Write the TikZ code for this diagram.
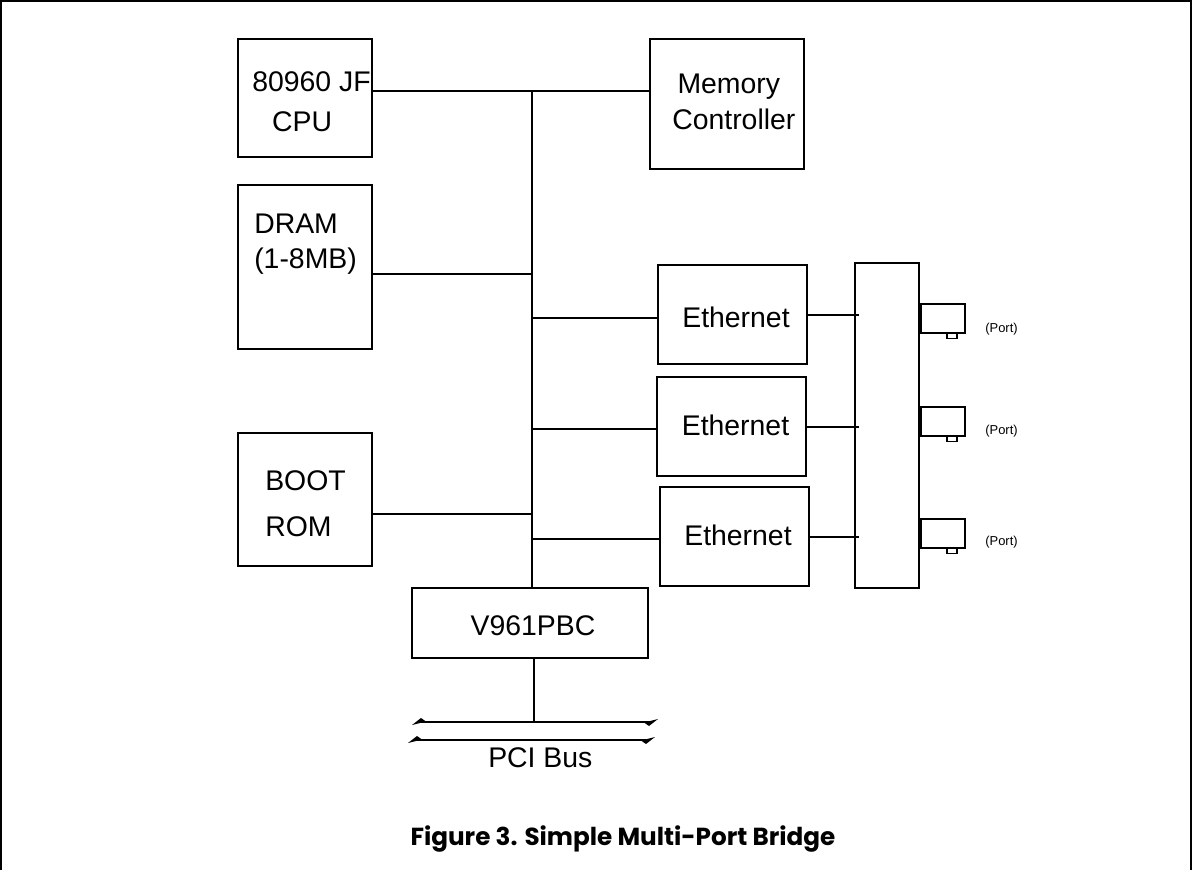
\documentclass[tikz,border=0pt]{standalone}
\usepackage{fontspec}
\setmainfont{Liberation Sans}
\newfontfamily\captionfont{Poppins}
\usetikzlibrary{arrows.meta,positioning}
\tikzset{
  wire/.style={draw=black,line width=1.5pt},
  frame/.style={draw=black,line width=1pt},
  base/.style={draw=black,line width=1.6pt,inner sep=0pt,outer sep=0pt,align=center,font=\fontsize{21.3}{27}\selectfont},
  size/.style 2 args={minimum width=#1*.75pt,minimum height=#2*.75pt},
  boxtext/.style={inner sep=0pt,anchor=base west,font=\fontsize{21.3}{27}\selectfont},
  portbox/.style={draw=black,line width=1.6pt,inner sep=0pt,outer sep=0pt,minimum width=33pt,minimum height=21.5pt},
  portstub/.style={draw=black,line width=1pt,inner sep=0pt,outer sep=0pt,minimum width=7.5pt,minimum height=4.5pt},
  porttext/.style={inner sep=0pt,font=\fontsize{9.7}{11}\selectfont}
}
\begin{document}
\begin{tikzpicture}[x=.75pt,y=-.75pt]
  \useasboundingbox (0,0) rectangle (1193,870);
  \coordinate (frameBL) at (1,870); \coordinate (frameTL) at (1,1);
  \coordinate (frameTR) at (1191,1); \coordinate (frameBR) at (1191,870);
  \draw[frame] (frameBL)--(frameTL)--(frameTR)--(frameBR);
  % left column
  \node[base,size={134}{118}] (cpu) at (305,98) {};
  \node[boxtext,align=center] (cputext) at (252,132) {80960 JF\\[3pt]CPU\hspace*{14pt}};
  \node[base,size={134}{164}] (dram) at (305,267) {};
  \node[boxtext,align=left] (dramtext) at (254,268) {DRAM\\[-.75pt](1-8MB)};
  \node[base,size={134}{133}] (boot) at (305,499.5) {};
  \node[boxtext,align=left] (boottext) at (265,536) {BOOT\\[7.5pt]ROM};
  % right column
  \node[base,size={154}{130}] (memory) at (727,104) {};
  \node[boxtext,align=center] (memorytext) at (672,130) {Memory\hspace*{7.5pt}\\Controller};
  \node[base,size={149}{99},text height=19pt] (eth1) at (732.5,314.5) {\hspace*{5.25pt}Ethernet};
  \node[base,size={149}{99},text depth=2.25pt] (eth2) at (731.5,426.5) {\hspace*{6pt}Ethernet};
  \node[base,size={149}{99},text depth=2.25pt] (eth3) at (734.5,536.5) {\hspace*{5.25pt}Ethernet};
  \node[base,size={64}{325}] (mux) at (887,425.5) {};
  \node[base,size={236}{70},text height=18.3pt] (bridge) at (530,623) {\hspace*{4.5pt}V961PBC};
  % ports
  \node[portbox,anchor=north west] (port1) at (921,304) {};
  \node[portbox,anchor=north west] (port2) at (921,407) {};
  \node[portbox,anchor=north west] (port3) at (921,519) {};
  \foreach \n in {1,2,3}{
    \node[portstub,anchor=north] (stub\n) at ([xshift=6.75pt]port\n.south) {};
  }
  \node[porttext] (portlabel1) at (1001.5,329.5) {(Port)};
  \node[porttext] (portlabel2) at (1001.5,431.5) {(Port)};
  \node[porttext] (portlabel3) at (1001.5,542.5) {(Port)};
  % bus
  \coordinate (busTop) at (532,91);
  \coordinate (busBot) at (532,588);
  \draw[wire] (busTop)--(busBot);
  \draw[wire] (cpu.east|-busTop)--(memory.west|-busTop);
  \foreach \name/\yy in {dram/274,boot/514}{
    \draw[wire] (\name.east|-0,\yy)--(busTop|-0,\yy);
  }
  \foreach \name/\yy in {eth1/318,eth2/429,eth3/539}{
    \draw[wire] (busTop|-0,\yy)--(\name.west|-0,\yy);
  }
  \foreach \name/\yy in {eth1/315,eth2/427,eth3/537}{
    \draw[wire] (\name.east|-0,\yy)--([xshift=3pt]mux.west|-0,\yy);
  }
  % pci bus
  \coordinate (pciUpL) at (412,725); \coordinate (pciUpR) at (658,719);
  \coordinate (pciLoL) at (408,743); \coordinate (pciLoR) at (655,737);
  \foreach \l/\r in {pciUpL/pciUpR,pciLoL/pciLoR}{
    \draw[wire] ([shift={(8,-3)}]\l)--([shift={(-8,3)}]\r);
    \fill (\l)--++(9,-7)--++(5,3.5)--cycle;
    \fill (\r)--++(-9,7)--++(-5,-3.5)--cycle;
  }
  \draw[wire] (bridge.south-|534,0)--(534,722);
  \node[boxtext] (pcilabel) at (488,767) {PCI Bus};
  \node[inner sep=0pt,font=\captionfont\bfseries\fontsize{18.5}{22}\selectfont] (caption) at (623,839) {Figure 3. Simple Multi-Port Bridge};
\end{tikzpicture}
\end{document}
